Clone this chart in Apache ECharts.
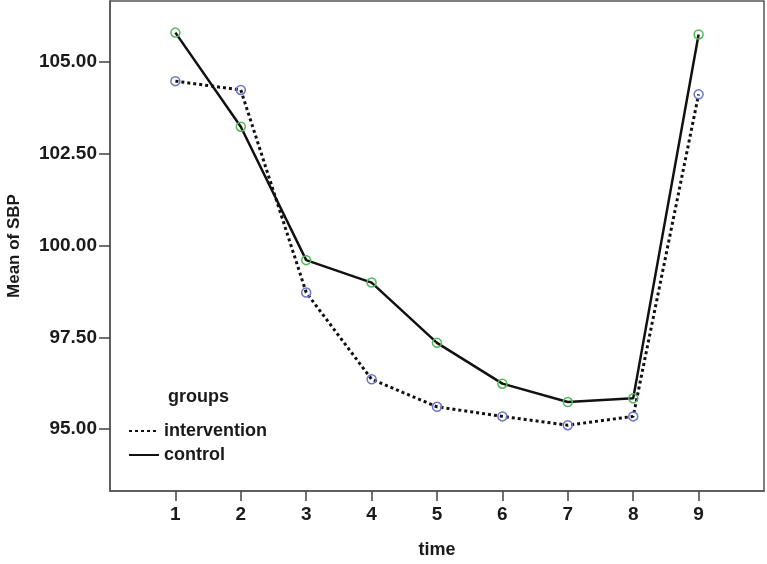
<!DOCTYPE html>
<html>
<head>
<meta charset="utf-8">
<script src="https://cdn.jsdelivr.net/npm/echarts@6/dist/echarts.min.js"></script>
<style>
html,body{margin:0;padding:0;background:#fff;}
#chart{width:767px;height:564px;}
</style>
</head>
<body>
<div id="chart"></div>
<script>
const times = [1, 2, 3, 4, 5, 6, 7, 8, 9];
const intervention = [104.47, 104.23, 98.72, 96.36, 95.61, 95.35, 95.11, 95.35, 104.11];
const control = [105.79, 103.23, 99.60, 98.99, 97.35, 96.24, 95.74, 95.84, 105.74];
const yTicks = [95, 97.5, 100, 102.5, 105];
const xTicks = [1, 2, 3, 4, 5, 6, 7, 8, 9];

const FONT = "'Liberation Sans', Arial, sans-serif";
const chart = echarts.init(document.getElementById('chart'), null, {renderer: 'canvas'});

function pairs(arr) { return times.map((t, i) => [t, arr[i]]); }

chart.setOption({
  animation: false,
  backgroundColor: '#fff',
  title: {
    text: 'groups', left: 163, top: 383,
    textStyle: {fontFamily: FONT, fontWeight: 'bold', fontSize: 18, color: '#1a1a1a'}
  },
  legend: {
    orient: 'vertical', left: 128, top: 422, padding: 0,
    itemWidth: 30, itemHeight: 14, itemGap: 6,
    data: ['intervention', 'control'],
    itemStyle: {opacity: 0},
    textStyle: {fontFamily: FONT, fontWeight: 'bold', fontSize: 18, color: '#1a1a1a'}
  },
  grid: {left: 110, right: 3, top: 1, bottom: 73, show: true, borderColor: '#555', borderWidth: 1.5,
    containLabel: false, outerBoundsMode: 'none'},
  xAxis: {
    type: 'value', min: 0, max: 10,
    name: 'time', nameLocation: 'middle', nameGap: 50,
    nameTextStyle: {fontFamily: FONT, fontWeight: 'bold', fontSize: 18, color: '#1a1a1a'},
    axisLine: {show: true, lineStyle: {color: '#555', width: 1.5}},
    axisTick: {show: true, length: 10, lineStyle: {color: '#444', width: 1.5}, customValues: xTicks},
    axisLabel: {fontFamily: FONT, fontWeight: 'bold', fontSize: 19, color: '#1a1a1a', margin: 14, customValues: xTicks},
    splitLine: {show: false}
  },
  yAxis: {
    type: 'value', min: 93.32, max: 106.65,
    name: 'Mean of SBP', nameLocation: 'middle', nameGap: 87, nameRotate: 90,
    nameTextStyle: {fontFamily: FONT, fontWeight: 'bold', fontSize: 17, color: '#1a1a1a'},
    axisLine: {show: true, lineStyle: {color: '#555', width: 1.5}},
    axisTick: {show: true, length: 11, lineStyle: {color: '#444', width: 1.5}, customValues: yTicks},
    axisLabel: {fontFamily: FONT, fontWeight: 'bold', fontSize: 19, color: '#1a1a1a', margin: 13,
      customValues: yTicks, formatter: v => v.toFixed(2)},
    splitLine: {show: false}
  },
  series: [
    {
      name: 'intervention', type: 'line', data: pairs(intervention),
      symbol: 'circle', symbolSize: 9,
      itemStyle: {color: 'rgba(0,0,0,0)', borderColor: '#6b77c9', borderWidth: 1.5},
      lineStyle: {color: '#111', width: 3, type: [3, 3]},
      z: 2
    },
    {
      name: 'control', type: 'line', data: pairs(control),
      symbol: 'circle', symbolSize: 9,
      itemStyle: {color: 'rgba(0,0,0,0)', borderColor: '#55b85a', borderWidth: 1.5},
      lineStyle: {color: '#111', width: 2.5},
      z: 3
    }
  ]
});
</script>
</body>
</html>
